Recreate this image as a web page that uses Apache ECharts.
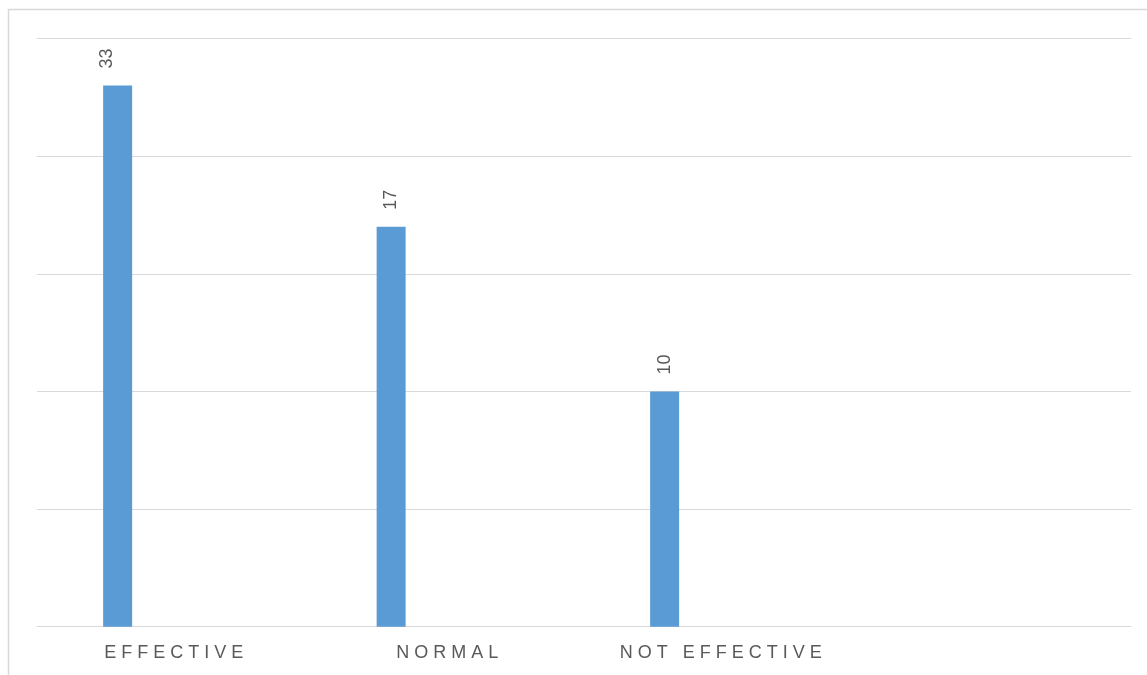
<!DOCTYPE html>
<html>
<head>
<meta charset="utf-8">
<script src="https://cdn.jsdelivr.net/npm/echarts@6/dist/echarts.min.js"></script>
<style>html,body{margin:0;padding:0;background:#fff;}#c{width:1147px;height:675px;}</style>
</head>
<body>
<div id="c"></div>
<script>
var categories = ['EFFECTIVE', 'NORMAL', 'NOT EFFECTIVE', ''];
var values = [23, 17, 10, null];
var valueLabels = ['33', '17', '10', ''];
var yTicks = [0, 5, 10, 15, 20, 25];

function spaced(s) {
  return s.split(' ').map(function (w) { return w.split('').join(' '); }).join('   ');
}

var chart = echarts.init(document.getElementById('c'), null, {renderer: 'canvas'});
var emptySeries = function () {
  return {type: 'bar', data: categories.map(function () { return '-'; }), barWidth: 29, silent: true};
};
chart.setOption({
  animation: false,
  graphic: [{
    type: 'rect', shape: {x: 8.5, y: 9.5, width: 1300, height: 800},
    style: {fill: 'none', stroke: '#d9d9d9', lineWidth: 1.5}, silent: true
  }],
  grid: {left: 37, right: 16, top: 38.5, bottom: 48.3, containLabel: false},
  xAxis: {
    type: 'category', data: categories,
    axisLine: {show: true, lineStyle: {color: '#d9d9d9', width: 1}},
    axisTick: {show: false},
    axisLabel: {
      margin: 17, color: '#595959', fontFamily: 'Liberation Sans, Arial, sans-serif', fontSize: 18,
      formatter: function (v) { return spaced(v); }
    }
  },
  yAxis: {
    type: 'value', min: yTicks[0], max: yTicks[yTicks.length - 1], interval: 5,
    axisLine: {show: false}, axisTick: {show: false}, axisLabel: {show: false},
    splitLine: {lineStyle: {color: '#d9d9d9', width: 1}}
  },
  series: [{
    type: 'bar', data: values.map(function (v, i) {
      var d = {value: v};
      if (i === 0) d.label = {offset: [0, -11]};
      return d;
    }),
    barWidth: 29, barGap: '29%',
    itemStyle: {color: '#5b9bd5'},
    label: {
      show: true, position: 'top', rotate: 90, align: 'left', verticalAlign: 'middle', distance: 17,
      color: '#595959', fontFamily: 'Liberation Sans, Arial, sans-serif', fontSize: 18,
      formatter: function (p) { return valueLabels[p.dataIndex]; }
    }
  }, emptySeries(), emptySeries(), emptySeries()]
});
</script>
</body>
</html>
